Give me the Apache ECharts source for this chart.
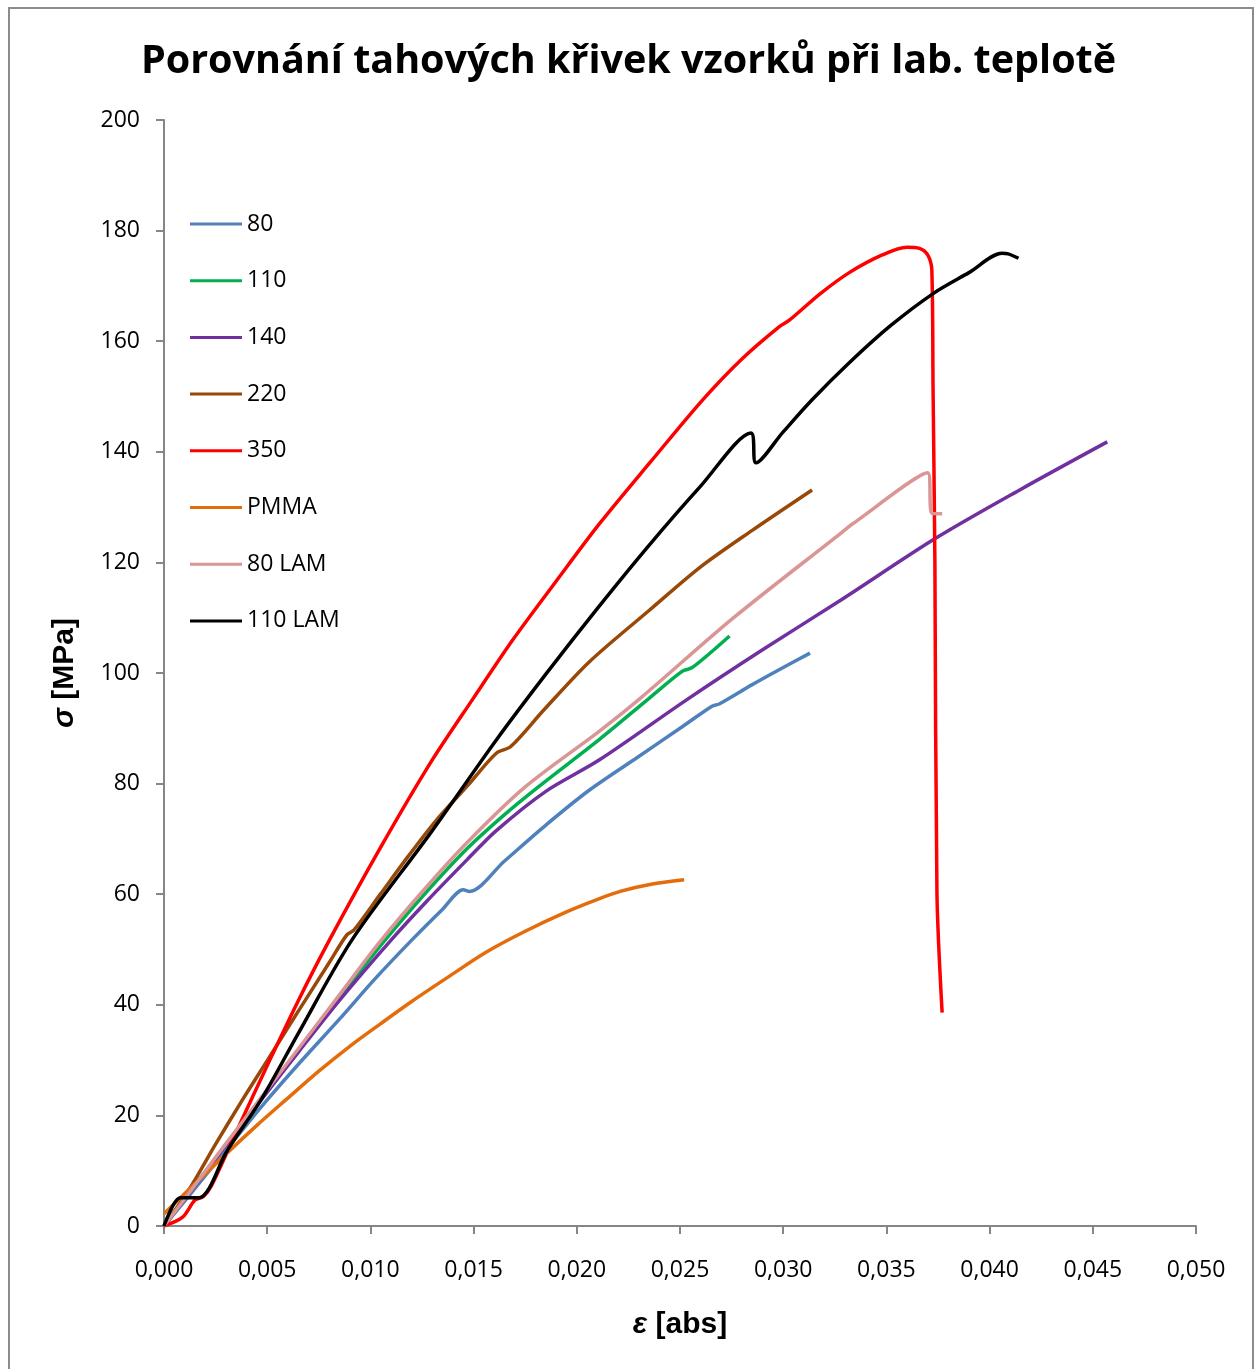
<!DOCTYPE html>
<html>
<head>
<meta charset="utf-8">
<script src="https://cdn.jsdelivr.net/npm/echarts@6/dist/echarts.min.js"></script>
<style>html,body{margin:0;padding:0;background:#fff;}#c{width:1257px;height:1369px;}</style>
</head>
<body>
<div id="c"></div>
<script>
const seriesNames = ['80', '110', '140', '220', '350', 'PMMA', '80 LAM', '110 LAM'];
const seriesColors = ['#4F81BD', '#00B050', '#7030A0', '#984807', '#FF0000', '#E46C0A', '#D99694', '#000000'];
const xTickLabels = ['0,000','0,005','0,010','0,015','0,020','0,025','0,030','0,035','0,040','0,045','0,050'];

const s80 = [[0,0],[0.001,4.5],[0.002,9.1],[0.003,13.7],[0.004,18.3],[0.005,22.8],[0.0065,29.2],[0.0085,37.4],[0.0102,44.6],[0.012,51.7],[0.0135,57.3],[0.0145,60.8],[0.0148,60.5],[0.0165,66.0],[0.0185,72.5],[0.0206,78.8],[0.023,84.9],[0.025,90.0],[0.02655,94.0],[0.0269,94.4],[0.0285,97.9],[0.030,101.0],[0.0313,103.6]];
const s110 = [[0,0],[0.001,4.9],[0.002,9.8],[0.003,14.7],[0.004,19.6],[0.005,24.4],[0.0065,31.7],[0.0085,41.3],[0.0106,51.2],[0.0125,59.5],[0.0147,68.3],[0.0165,74.4],[0.0182,79.6],[0.0211,88.0],[0.0234,95.1],[0.0251,100.3],[0.0256,101.0],[0.0274,106.7]];
const s140 = [[0,0],[0.001,4.8],[0.002,9.7],[0.003,14.6],[0.004,19.4],[0.005,24.2],[0.0065,31.4],[0.0085,40.8],[0.011,51.7],[0.0128,59.0],[0.0147,66.3],[0.0161,71.5],[0.0185,78.6],[0.0211,84.3],[0.0253,95.1],[0.029,104.2],[0.0328,113.2],[0.0374,124.4],[0.0415,133.2],[0.0457,141.8]];
const s220 = [[0,0],[0.0013,7.1],[0.0025,14.8],[0.0038,22.8],[0.005,29.9],[0.0065,38.8],[0.008,47.6],[0.00885,52.6],[0.0092,53.5],[0.0105,60.1],[0.0118,66.7],[0.0132,73.4],[0.0147,79.6],[0.0161,85.5],[0.0168,86.7],[0.0184,93.3],[0.0206,102.0],[0.0235,111.3],[0.026,119.2],[0.0285,125.8],[0.0314,133.1]];
const s350 = [[0,0],[0.0009,1.6],[0.0015,4.7],[0.0019,5.3],[0.0023,7.3],[0.0035,17.0],[0.005,29.0],[0.0065,40.7],[0.008,51.6],[0.0105,68.5],[0.0129,83.7],[0.015,95.5],[0.0169,106.0],[0.019,116.6],[0.0211,127.0],[0.0236,138.3],[0.0261,149.4],[0.028,156.8],[0.0298,162.6],[0.0303,163.8],[0.0318,168.6],[0.0332,172.4],[0.0348,175.6],[0.036,177.0],[0.0366,176.8],[0.037,175.6],[0.0372,172.9],[0.03726,151.7],[0.03735,120.0],[0.03745,60.0],[0.0377,38.6]];
const sPMMA = [[0,2.2],[0.0013,6.9],[0.003,13.0],[0.0045,18.2],[0.0059,22.8],[0.0075,28.0],[0.009,32.5],[0.0105,36.6],[0.012,40.6],[0.0138,45.1],[0.0156,49.5],[0.0175,53.3],[0.0195,56.8],[0.0211,59.2],[0.0221,60.5],[0.0236,61.8],[0.0252,62.6]];
const s80LAM = [[0,0],[0.001,4.9],[0.002,9.9],[0.003,14.9],[0.004,19.8],[0.005,24.7],[0.0065,32.0],[0.0085,41.8],[0.0104,51.1],[0.0125,60.4],[0.0147,69.4],[0.0175,79.4],[0.0211,89.5],[0.0231,95.5],[0.0276,110.0],[0.0328,125.3],[0.0333,126.8],[0.037,136.2],[0.0372,128.9],[0.0377,128.8]];
const s110LAM = [[0,0],[0.0008,5.1],[0.0017,5.1],[0.0022,6.9],[0.003,13.2],[0.0047,22.8],[0.0065,34.8],[0.0091,51.7],[0.0129,71.0],[0.0161,87.9],[0.0185,99.8],[0.021,111.7],[0.0235,123.1],[0.026,133.8],[0.02844,143.4],[0.02868,138.0],[0.030,143.6],[0.0314,149.4],[0.0332,156.1],[0.0352,162.8],[0.0373,168.7],[0.039,172.4],[0.0406,175.9],[0.0409,175.8],[0.0414,175.0]];

const allData = [s80, s110, s140, s220, s350, sPMMA, s80LAM, s110LAM];

const chart = echarts.init(document.getElementById('c'), null, {renderer: 'canvas'});
const option = {
  backgroundColor: '#ffffff',
  animation: false,
  title: {
    text: 'Porovnání tahových křivek vzorků při lab. teplotě',
    left: 'center',
    top: 37,
    textStyle: {fontFamily: 'Open Sans', fontWeight: 'bold', fontSize: 39.5, color: '#000'}
  },
  graphic: [{
    type: 'rect', silent: true, z: -1,
    shape: {x: 9, y: 8, width: 1244, height: 1420},
    style: {fill: 'none', stroke: '#8c8c8c', lineWidth: 2}
  }],
  legend: {
    orient: 'vertical',
    left: 185,
    top: 207,
    icon: 'rect',
    itemWidth: 52,
    itemHeight: 3,
    itemGap: 32.7,
    data: seriesNames,
    textStyle: {fontFamily: 'Open Sans', fontSize: 23, lineHeight: 24, color: '#000'}
  },
  grid: {left: 164, right: 61, top: 120, bottom: 143},
  xAxis: {
    type: 'value', min: 0, max: 0.05, interval: 0.005,
    name: '{i|ε} [abs]',
    nameLocation: 'middle',
    nameGap: 84,
    nameTextStyle: {
      fontFamily: 'Liberation Sans', fontWeight: 'bold', fontSize: 30, color: '#000',
      rich: {i: {fontFamily: 'Liberation Sans', fontWeight: 'bold', fontStyle: 'italic', fontSize: 30, color: '#000'}}
    },
    axisLine: {lineStyle: {color: '#868686', width: 2}},
    axisTick: {show: true, length: 8, lineStyle: {color: '#868686', width: 2}},
    splitLine: {show: false},
    axisLabel: {
      margin: 33,
      fontFamily: 'Open Sans', fontSize: 23, color: '#000',
      formatter: function (v) { return xTickLabels[Math.round(v / 0.005)]; }
    }
  },
  yAxis: {
    type: 'value', min: 0, max: 200, interval: 20,
    name: '{i|σ} [MPa]',
    nameLocation: 'middle',
    nameGap: 84,
    nameTextStyle: {
      fontFamily: 'Liberation Sans', fontWeight: 'bold', fontSize: 30, color: '#000',
      rich: {i: {fontFamily: 'Liberation Sans', fontWeight: 'bold', fontStyle: 'italic', fontSize: 30, color: '#000'}}
    },
    axisLine: {show: true, lineStyle: {color: '#868686', width: 2}},
    axisTick: {show: true, length: 8, lineStyle: {color: '#868686', width: 2}},
    splitLine: {show: false},
    axisLabel: {margin: 24, fontFamily: 'Open Sans', fontSize: 23, color: '#000'}
  },
  series: seriesNames.map(function (n, i) {
    return {
      name: n,
      type: 'line',
      data: allData[i],
      symbol: 'none',
      smooth: 0.3,
      color: seriesColors[i],
      itemStyle: {color: seriesColors[i]},
      lineStyle: {width: 3.5, color: seriesColors[i]}
    };
  })
};
chart.setOption(option);
</script>
</body>
</html>
